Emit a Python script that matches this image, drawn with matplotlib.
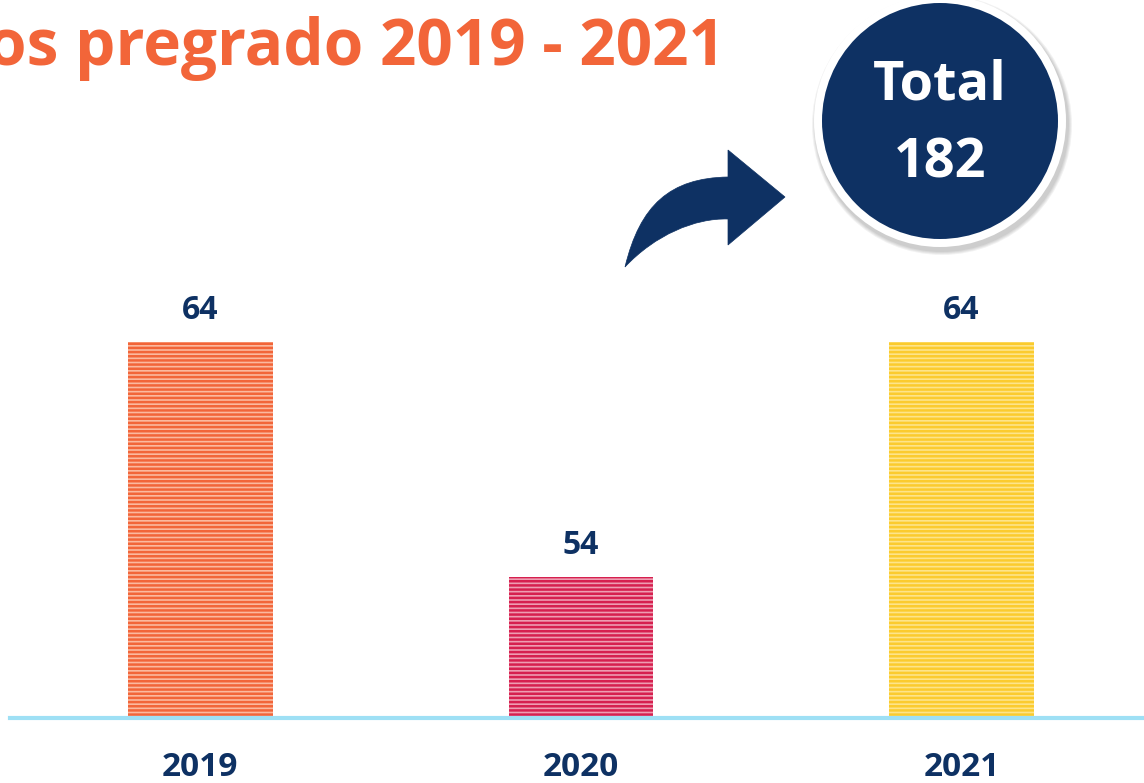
import matplotlib
matplotlib.use("Agg")
import matplotlib.pyplot as plt
from matplotlib.patches import Circle, PathPatch
from matplotlib.path import Path

years = ["2019", "2020", "2021"]
values = [64, 54, 64]
dark_colors = ["#F26539", "#D6204F", "#FBCB2E"]
light_colors = ["#FBB99F", "#EE9DB2", "#FDE48A"]
title = "os pregrado 2019 - 2021"
total_label = "Total"
total_value = sum(values)

NAVY = "#0E3163"
plt.rcParams['font.family'] = ['Open Sans', 'DejaVu Sans']
plt.rcParams['hatch.linewidth'] = 1.8

W, H = 1144, 783
fig = plt.figure(figsize=(W / 100, H / 100), dpi=100)
fig.patch.set_facecolor("white")

# main bar axes
ax = fig.add_axes([10 / W, (H - 718) / H, (W - 10) / W, 718 / H])
ax.set_xlim(-0.5, 2.48)
ymin = 48
ax.set_ylim(ymin, ymin + 718 / 23.5)
x = list(range(len(years)))
bars = ax.bar(x, [v - ymin for v in values], bottom=ymin, width=0.38,
              color=light_colors, edgecolor=dark_colors, hatch='----', linewidth=0)
for xi, v in zip(x, values):
    ax.annotate(str(v), (xi, v), xytext=(0, 11), textcoords='offset points',
                ha='center', va='bottom', fontsize=23, fontweight='bold', color=NAVY)
ax.axhline(ymin, color="#9EE0F5", lw=3, zorder=5, clip_on=False)
ax.set_xticks(x)
ax.set_xticklabels(years, fontsize=24, fontweight='bold', color=NAVY)
ax.tick_params(axis='x', length=0, pad=24)
ax.set_yticks([])
for s in ax.spines.values():
    s.set_visible(False)

# overlay axes in pixel coordinates for decorations
ov = fig.add_axes([0, 0, 1, 1], zorder=10)
ov.set_xlim(0, W)
ov.set_ylim(H, 0)
ov.axis('off')
ov.patch.set_alpha(0)

ov.text(725, 65, title, ha='right', va='baseline', fontsize=46,
        fontweight='bold', color="#F26539")

# circle with shadow
cx, cy = 940, 121
for i, a in enumerate([0.05, 0.05, 0.05, 0.05]):
    ov.add_patch(Circle((cx + 2, cy + 4), 126 + 4 - i, color='#000000', alpha=a, lw=0))
ov.add_patch(Circle((cx, cy), 126, color='white', lw=0))
ov.add_patch(Circle((cx, cy), 118, color=NAVY, lw=0))
ov.text(cx, 86, total_label, ha='center', va='center', fontsize=39,
        fontweight='bold', color='white')
ov.text(cx, 164, str(total_value), ha='center', va='center', fontsize=39,
        fontweight='bold', color='white')

# curved arrow
verts = [(625, 267), (640, 205), (670, 178), (728, 177),
         (728, 150), (785, 197), (728, 245), (728, 219),
         (695, 218), (655, 235), (625, 267), (625, 267)]
codes = [Path.MOVETO, Path.CURVE4, Path.CURVE4, Path.CURVE4,
         Path.LINETO, Path.LINETO, Path.LINETO, Path.LINETO,
         Path.CURVE4, Path.CURVE4, Path.CURVE4, Path.CLOSEPOLY]
ov.add_patch(PathPatch(Path(verts, codes), facecolor=NAVY, edgecolor=NAVY, lw=0.5))

fig.savefig("out.png", dpi=100)
